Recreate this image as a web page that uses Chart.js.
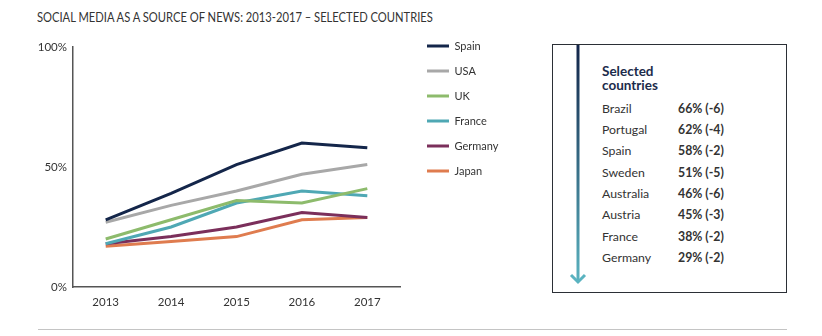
<!DOCTYPE html>
<html>
<head>
<meta charset="utf-8">
<script src="https://cdn.jsdelivr.net/npm/chart.js@4/dist/chart.umd.min.js"></script>
<style>
  body { margin: 0; background: #fff; font-family: Lato, "Open Sans", sans-serif; }
  #wrap { position: relative; width: 822px; height: 336px; overflow: hidden; }
  #title { position: absolute; left: 37px; top: 9px; font-size: 13px; color: #333; white-space: nowrap; transform: scaleX(0.86); transform-origin: 0 0; }
  #chartBox { position: absolute; left: 0; top: 0; width: 540px; height: 336px; }
  #panel { position: absolute; left: 552px; top: 44px; width: 233px; height: 247px; border: 1.5px solid #2b2f36; }
  #panel svg { position: absolute; left: 0; top: 0; }
  #panel .head { position: absolute; left: 49px; top: 20px; font-size: 13.5px; line-height: 13.5px; font-weight: 700; color: #1c2b4b; }
  #panel .row { position: absolute; left: 49px; font-size: 12.3px; line-height: 14px; color: #333; white-space: nowrap; }
  #panel .row b { position: absolute; left: 76px; }
  #rule { position: absolute; left: 38px; top: 329px; width: 749px; height: 1px; background: #c4c4c4; }
</style>
</head>
<body>
<div id="wrap">
  <div id="title">SOCIAL MEDIA AS A SOURCE OF NEWS: 2013-2017 – SELECTED COUNTRIES</div>
  <div id="chartBox"><canvas id="news"></canvas></div>
  <div id="panel">
    <svg width="60" height="247">
      <defs>
        <linearGradient id="fade" gradientUnits="userSpaceOnUse" x1="0" y1="0" x2="0" y2="238">
          <stop offset="0" stop-color="#13254a"/>
          <stop offset="1" stop-color="#5ab3c0"/>
        </linearGradient>
      </defs>
      <line x1="25" y1="0" x2="25" y2="237" stroke="url(#fade)" stroke-width="3"/>
      <polyline points="18,230 25,237 32,230" fill="none" stroke="#5ab3c0" stroke-width="3"/>
    </svg>
    <div class="head">Selected<br>countries</div>
  </div>
  <div id="rule"></div>
</div>
<script>
const years = ["2013", "2014", "2015", "2016", "2017"];
const spain = [28, 39, 51, 60, 58];
const usa = [27, 34, 40, 47, 51];
const uk = [20, 28, 36, 35, 41];
const france = [18, 25, 35, 40, 38];
const germany = [18, 21, 25, 31, 29];
const japan = [17, 19, 21, 28, 29];
const yTicks = [0, 50, 100];

// side panel: share in 2017 and change from 2016
const panelCountries = ["Brazil", "Portugal", "Spain", "Sweden", "Australia", "Austria", "France", "Germany"];
const panelShares = [66, 62, 58, 51, 46, 45, 38, 29];
const panelChanges = [-6, -4, -2, -5, -6, -3, -2, -2];

const panel = document.getElementById("panel");
panelCountries.forEach((name, i) => {
  const row = document.createElement("div");
  row.className = "row";
  row.style.top = (56.5 + i * 21.35) + "px";
  row.innerHTML = name + "<b>" + panelShares[i] + "% (" + panelChanges[i] + ")</b>";
  panel.appendChild(row);
});

function series(label, data, color) {
  return {
    label, data,
    borderColor: color,
    backgroundColor: color,
    borderWidth: 3,
    pointRadius: 0,
    tension: 0,
  };
}

// moves the legend column next to the plot
const legendPlace = {
  id: "legendPlace",
  afterLayout(chart) {
    const lg = chart.legend;
    const dx = chart.chartArea.right + 13 - lg.left;
    lg.left += dx; lg.right += dx;
    const dy = 26.5 - lg.top;
    lg.top += dy; lg.bottom += dy;
  },
};

const tickFont = { family: "Lato", size: 11.5 };
const plotRight = 400;

const chart = new Chart(document.getElementById("news"), {
  type: "line",
  data: {
    labels: years,
    datasets: [
      series("Spain", spain, "#14264a"),
      series("USA", usa, "#a8a8a8"),
      series("UK", uk, "#8dbb6c"),
      series("France", france, "#4fa8b4"),
      series("Germany", germany, "#7b2f5b"),
      series("Japan", japan, "#df7c4f"),
    ],
  },
  options: {
    responsive: true,
    maintainAspectRatio: false,
    animation: false,
    layout: { padding: { top: 47, left: 0, right: 50, bottom: 0 } },
    plugins: {
      tooltip: { enabled: false },
      legend: {
        position: "right",
        align: "start",
        labels: {
          boxWidth: 22,
          boxHeight: 3,
          padding: 14,
          color: "#333",
          font: { family: "Lato", size: 11 },
          generateLabels: chart =>
            Chart.defaults.plugins.legend.labels.generateLabels(chart).map(l => ({ ...l, lineWidth: 0 })),
        },
      },
    },
    scales: {
      x: {
        offset: true,
        grid: { display: false, drawTicks: false },
        border: { display: true, color: "#555", width: 1.5 },
        ticks: { color: "#333", font: tickFont, padding: 8 },
        afterFit: s => { s.height = 49; },
      },
      y: {
        min: 0,
        max: 100,
        grid: { display: false, drawTicks: false },
        border: { display: true, color: "#555", width: 1.5 },
        afterBuildTicks: s => { s.ticks = yTicks.map(v => ({ value: v })); },
        ticks: { color: "#333", font: tickFont, padding: 6, callback: v => v + "%" },
        afterFit: s => { s.width = 73; },
      },
    },
  },
  plugins: [legendPlace],
});

// trim the right padding so the plot ends at plotRight
chart.options.layout.padding = { top: 47, left: 0, right: 50 + chart.chartArea.right - plotRight, bottom: 0 };
chart.update();
</script>
</body>
</html>
